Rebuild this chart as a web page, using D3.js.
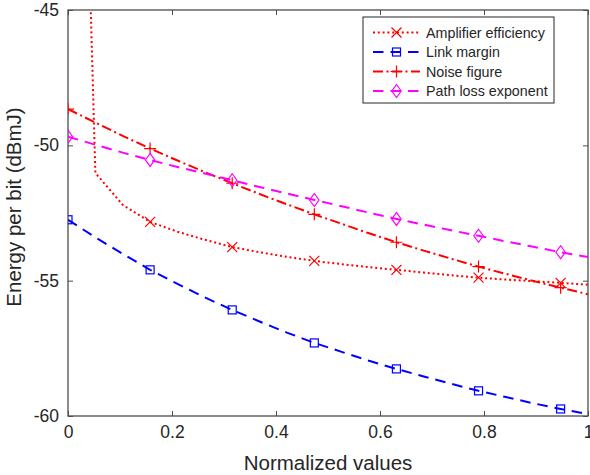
<!DOCTYPE html>
<html>
<head>
<meta charset="utf-8">
<script src="https://cdn.jsdelivr.net/npm/d3@7"></script>
<style>
  body { margin: 0; background: #fff; }
  text { font-family: "Liberation Sans", Arial, sans-serif; fill: #262626; }
</style>
</head>
<body>
<div id="root"></div>
<script>
// 20 samples on [0, 1], a marker on every third one
var xValues = d3.range(20).map(i => i / 19);

var ampEfficiency = [-15.3, -51.02, -52.20, -52.83, -53.19, -53.49, -53.76, -53.95, -54.12, -54.27,
  -54.39, -54.50, -54.60, -54.70, -54.80, -54.89, -54.96, -55.02, -55.08, -55.15];
var linkMargin = [-52.75, -53.40, -54.01, -54.60, -55.12, -55.62, -56.08, -56.51, -56.92, -57.30,
  -57.63, -57.96, -58.26, -58.54, -58.81, -59.07, -59.30, -59.53, -59.74, -59.93];
var noiseFigure = [-48.66, -49.16, -49.65, -50.12, -50.56, -50.99, -51.40, -51.80, -52.18, -52.55,
  -52.90, -53.25, -53.58, -53.89, -54.19, -54.48, -54.75, -55.01, -55.26, -55.50];
var pathLoss = [-49.68, -49.98, -50.27, -50.54, -50.80, -51.04, -51.29, -51.54, -51.78, -52.02,
  -52.25, -52.49, -52.72, -52.93, -53.14, -53.34, -53.55, -53.75, -53.95, -54.13];

var xTicks = [0, 0.2, 0.4, 0.6, 0.8, 1];
var yTicks = [-60, -55, -50, -45];

var series = [
  { name: 'Amplifier efficiency', values: ampEfficiency, color: '#ff0000', dash: '2,2.8', marker: 'x' },
  { name: 'Link margin', values: linkMargin, color: '#0000ff', dash: '10.5,7', marker: 'square' },
  { name: 'Noise figure', values: noiseFigure, color: '#ff0000', dash: '10,3.5,2,3.5', marker: 'plus' },
  { name: 'Path loss exponent', values: pathLoss, color: '#ff00ff', dash: '10.5,7', marker: 'diamond' }
];

var margin = { top: 10, right: 2, bottom: 59, left: 68 },
  width = 590 - margin.left - margin.right,
  height = 475 - margin.top - margin.bottom;

var svg = d3.select('#root')
  .append('svg')
    .attr('width', 590)
    .attr('height', 475);

var g = svg.append('g')
  .attr('transform', 'translate(' + margin.left + ', ' + margin.top + ')');

var xScale = d3.scaleLinear().domain([0, 1]).range([0, width]);
var yScale = d3.scaleLinear().domain([-60, -45]).range([height, 0]);

g.append('rect')
  .attr('width', width)
  .attr('height', height)
  .attr('fill', '#fff');

svg.append('defs').append('clipPath')
  .attr('id', 'plot-clip')
  .append('rect')
    .attr('width', width)
    .attr('height', height);

// axes, ticks pointing inward, box on
var axisColor = '#4d4d4d';
function styleAxis(sel) {
  sel.select('.domain').remove();
  sel.selectAll('line').attr('stroke', axisColor).attr('stroke-width', 1);
  sel.selectAll('text').attr('font-size', '17.5px').attr('fill', '#262626');
}

g.append('g')
  .attr('transform', 'translate(0, ' + height + ')')
  .call(d3.axisBottom(xScale).tickValues(xTicks).tickFormat(d => String(d))
    .tickSizeInner(-5).tickSizeOuter(0).tickPadding(10))
  .call(styleAxis);

g.append('g')
  .call(d3.axisTop(xScale).tickValues(xTicks).tickFormat('')
    .tickSizeInner(-5).tickSizeOuter(0))
  .call(styleAxis);

g.append('g')
  .call(d3.axisLeft(yScale).tickValues(yTicks).tickFormat(d => String(d))
    .tickSizeInner(-5).tickSizeOuter(0).tickPadding(9))
  .call(styleAxis);

g.append('g')
  .attr('transform', 'translate(' + width + ', 0)')
  .call(d3.axisRight(yScale).tickValues(yTicks).tickFormat('')
    .tickSizeInner(-5).tickSizeOuter(0))
  .call(styleAxis);

g.append('rect')
  .attr('width', width)
  .attr('height', height)
  .attr('fill', 'none')
  .attr('stroke', axisColor)
  .attr('stroke-width', 1.3);

g.append('text')
  .attr('x', width / 2)
  .attr('y', height + 54)
  .attr('font-size', '20.5px')
  .attr('text-anchor', 'middle')
  .text('Normalized values');

g.append('text')
  .attr('x', -(height / 2) + 6)
  .attr('y', -47)
  .attr('font-size', '20.5px')
  .attr('text-anchor', 'middle')
  .attr('transform', 'rotate(-90)')
  .text('Energy per bit (dBmJ)');

// markers
function drawMarker(sel, type, color) {
  if (type === 'x') {
    sel.append('path').attr('d', 'M-5,-5L5,5M-5,5L5,-5');
  } else if (type === 'square') {
    sel.append('rect').attr('x', -4).attr('y', -4).attr('width', 8).attr('height', 8);
  } else if (type === 'plus') {
    sel.append('path').attr('d', 'M-6,0L6,0M0,-6L0,6');
  } else {
    sel.append('path').attr('d', 'M0,-6.5L4.7,0L0,6.5L-4.7,0Z');
  }
  sel.selectAll('*').attr('fill', 'none').attr('stroke', color).attr('stroke-width', 1.2);
}

var line = d3.line()
  .x((d, i) => xScale(xValues[i]))
  .y(d => yScale(d));

var plot = g.append('g').attr('clip-path', 'url(#plot-clip)');

series.forEach(s => {
  plot.append('path')
    .datum(s.values)
    .attr('fill', 'none')
    .attr('stroke', s.color)
    .attr('stroke-width', 2)
    .attr('stroke-dasharray', s.dash)
    .attr('d', line);

  var marks = s.values
    .map((v, i) => ({ x: xValues[i], y: v, i: i }))
    .filter(d => d.i % 3 === 0);

  plot.selectAll(null)
    .data(marks)
    .enter()
    .append('g')
      .attr('transform', d => 'translate(' + xScale(d.x) + ',' + yScale(d.y) + ')')
      .each(function () { drawMarker(d3.select(this), s.marker, s.color); });
});

// legend
var legend = svg.append('g').attr('transform', 'translate(363, 17)');
legend.append('rect')
  .attr('width', 191)
  .attr('height', 86)
  .attr('fill', '#fff')
  .attr('stroke', '#262626')
  .attr('stroke-width', 1);

series.forEach((s, i) => {
  var row = legend.append('g').attr('transform', 'translate(0,' + (15.5 + i * 19.5) + ')');
  row.append('line')
    .attr('x1', 10).attr('x2', 57)
    .attr('stroke', s.color)
    .attr('stroke-width', 1.8)
    .attr('stroke-dasharray', s.dash);
  var m = row.append('g').attr('transform', 'translate(33.5,0)');
  drawMarker(m, s.marker, s.color);
  row.append('text')
    .attr('x', 63)
    .attr('y', 5)
    .attr('font-size', '14.3px')
    .text(s.name);
});
</script>
</body>
</html>
